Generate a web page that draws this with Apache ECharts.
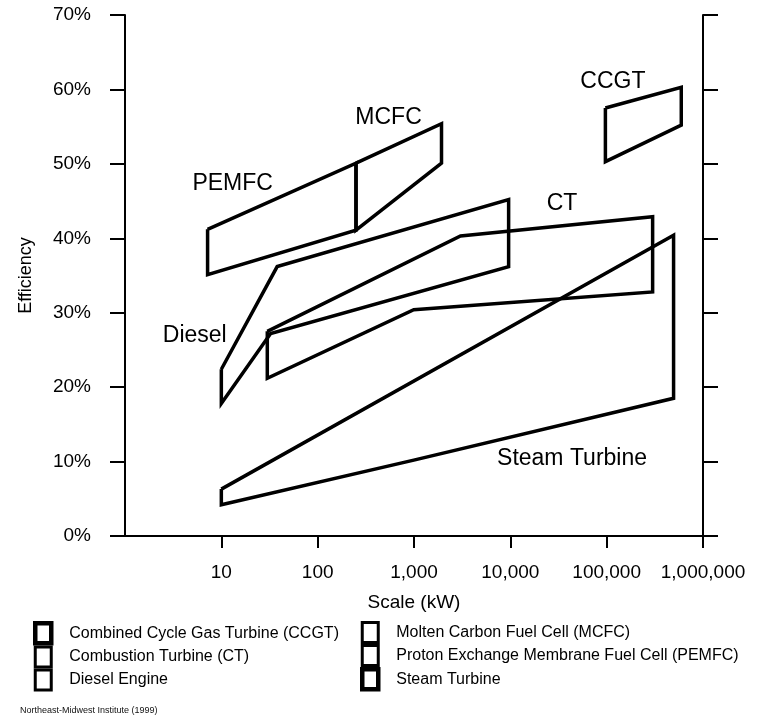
<!DOCTYPE html>
<html>
<head>
<meta charset="utf-8">
<script src="https://cdn.jsdelivr.net/npm/echarts@6/dist/echarts.min.js"></script>
<style>
  html, body { margin: 0; padding: 0; background: #fff; }
  #root { width: 759px; height: 718px; }
</style>
</head>
<body>
<div id="root"></div>
<script>
// Technology names (legend order: left column, then right column)
const legendLeft = ['Combined Cycle Gas Turbine (CCGT)', 'Combustion Turbine (CT)', 'Diesel Engine']
const legendRight = ['Molten Carbon Fuel Cell (MCFC)', 'Proton Exchange Membrane Fuel Cell (PEMFC)', 'Steam Turbine']

// Polygon outlines: scale (kW) and efficiency (%) of each corner
const ccgtKW = [97000, 595000, 595000, 97000]
const ccgtEff = [57.5, 60.3, 55.2, 50.3]
const ctKW = [30, 3040, 300000, 300000, 995, 30]
const ctEff = [27.5, 40.3, 42.9, 32.8, 30.4, 21.2]
const dieselKW = [10, 38, 9600, 9600, 32.5, 10]
const dieselEff = [22.4, 36.2, 45.2, 36.2, 27.2, 17.8]
const mcfcKW = [250, 1930, 1930, 250]
const mcfcEff = [50.1, 55.4, 50.1, 41.1]
const pemfcKW = [7.2, 250, 250, 7.2]
const pemfcEff = [41.2, 50.1, 41.1, 35.1]
const steamKW = [10, 495000, 495000, 995, 10]
const steamEff = [6.3, 40.4, 18.5, 10.2, 4.2]

// Text labels placed inside the plot
const tagNames = ['CCGT', 'MCFC', 'PEMFC', 'CT', 'Diesel', 'Steam Turbine']
const tagKW = [116000, 544, 13.1, 34400, 5.3, 43700]
const tagEff = [61.0, 56.2, 47.4, 44.6, 26.9, 10.4]

// Axis ticks
const xTicks = [10, 100, 1000, 10000, 100000, 1000000]
const yTicks = [0, 10, 20, 30, 40, 50, 60, 70]

const FONT = "'Liberation Sans', Arial, Helvetica, sans-serif"

// close the outline by repeating first corner
function outline (kw, eff) {
  const pts = kw.map((x, i) => [x, eff[i]])
  pts.push(pts[0])
  return pts
}

function polySeries (name, kw, eff) {
  return {
    name: name,
    type: 'line',
    data: outline(kw, eff),
    symbol: 'none',
    silent: true,
    lineStyle: { color: '#000', width: 3.5, join: 'miter' },
    itemStyle: { color: '#000' },
    z: 3
  }
}

// thicker border on a couple of legend boxes, as in the print
const boxBorder = {
  'Combined Cycle Gas Turbine (CCGT)': 4.5,
  'Steam Turbine': 4.5
}
function legendItems (names) {
  return names.map(n => ({
    name: n,
    icon: 'rect',
    itemStyle: { color: '#fff', borderColor: '#000', borderWidth: boxBorder[n] || 3 }
  }))
}

const legendCommon = {
  orient: 'vertical',
  top: 621,
  padding: 0,
  itemWidth: 16,
  itemHeight: 20,
  itemGap: 0,
  selectedMode: false,
  textStyle: { fontFamily: FONT, fontSize: 16, lineHeight: 20, color: '#000', padding: [0, 0, 0, 13] }
}

const chart = echarts.init(document.getElementById('root'))

const option = {
  animation: false,
  backgroundColor: '#fff',
  title: {
    text: 'Northeast-Midwest Institute (1999)',
    left: 20,
    top: 706,
    padding: 0,
    textStyle: {
      fontFamily: "'Liberation Sans Narrow', 'Arial Narrow', " + FONT,
      fontSize: 9,
      fontWeight: 'normal',
      color: '#111'
    }
  },
  legend: [
    Object.assign({ left: 33, data: legendItems(legendLeft) }, legendCommon),
    Object.assign({ left: 360, data: legendItems(legendRight) }, legendCommon)
  ],
  grid: { left: 125, right: 56, top: 15, bottom: 182 },
  xAxis: [
    {
      type: 'log',
      logBase: 10,
      min: 1,
      max: 1000000,
      name: 'Scale (kW)',
      nameLocation: 'middle',
      nameGap: 57,
      nameTextStyle: { fontFamily: FONT, fontSize: 19, color: '#000' },
      axisLine: { lineStyle: { color: '#000', width: 2 } },
      axisTick: { inside: false, length: 12, customValues: xTicks, lineStyle: { color: '#000', width: 2 } },
      axisLabel: {
        customValues: xTicks,
        margin: 27,
        fontFamily: FONT,
        fontSize: 19,
        color: '#000',
        formatter: v => Math.round(v).toLocaleString('en-US')
      },
      splitLine: { show: false },
      minorTick: { show: false }
    },
    {
      // top border of the frame
      type: 'log',
      logBase: 10,
      min: 1,
      max: 1000000,
      position: 'top',
      axisLine: { lineStyle: { color: '#000', width: 2 } },
      axisTick: { show: false },
      axisLabel: { show: false },
      splitLine: { show: false }
    }
  ],
  yAxis: [
    {
      type: 'value',
      min: yTicks[0],
      max: yTicks[yTicks.length - 1],
      interval: 10,
      name: 'Efficiency',
      nameLocation: 'middle',
      nameGap: 90,
      nameTextStyle: { fontFamily: FONT, fontSize: 18, color: '#000' },
      axisLine: { show: true, lineStyle: { color: '#000', width: 2 } },
      axisTick: { show: true, inside: false, length: 15, lineStyle: { color: '#000', width: 2 } },
      axisLabel: { margin: 34, padding: [4, 0, 0, 0], fontFamily: FONT, fontSize: 19, color: '#000', formatter: '{value}%' },
      splitLine: { show: false }
    },
    {
      // right border with outward ticks
      type: 'value',
      position: 'right',
      min: yTicks[0],
      max: yTicks[yTicks.length - 1],
      interval: 10,
      axisLine: { show: true, lineStyle: { color: '#000', width: 2 } },
      axisTick: { show: true, inside: false, length: 15, lineStyle: { color: '#000', width: 2 } },
      axisLabel: { show: false },
      splitLine: { show: false }
    }
  ],
  series: [
    polySeries(legendLeft[0], ccgtKW, ccgtEff),
    polySeries(legendLeft[1], ctKW, ctEff),
    polySeries(legendLeft[2], dieselKW, dieselEff),
    polySeries(legendRight[0], mcfcKW, mcfcEff),
    polySeries(legendRight[1], pemfcKW, pemfcEff),
    polySeries(legendRight[2], steamKW, steamEff),
    {
      // in-plot text tags
      type: 'scatter',
      symbolSize: 0,
      silent: true,
      itemStyle: { color: '#000', opacity: 1 },
      data: tagNames.map((n, i) => ({ name: n, value: [tagKW[i], tagEff[i]] })),
      label: {
        show: true,
        position: 'inside',
        formatter: p => p.name,
        fontFamily: FONT,
        fontSize: 23,
        color: '#000',
        opacity: 1
      },
      z: 4
    }
  ]
}

chart.setOption(option)
</script>
</body>
</html>
